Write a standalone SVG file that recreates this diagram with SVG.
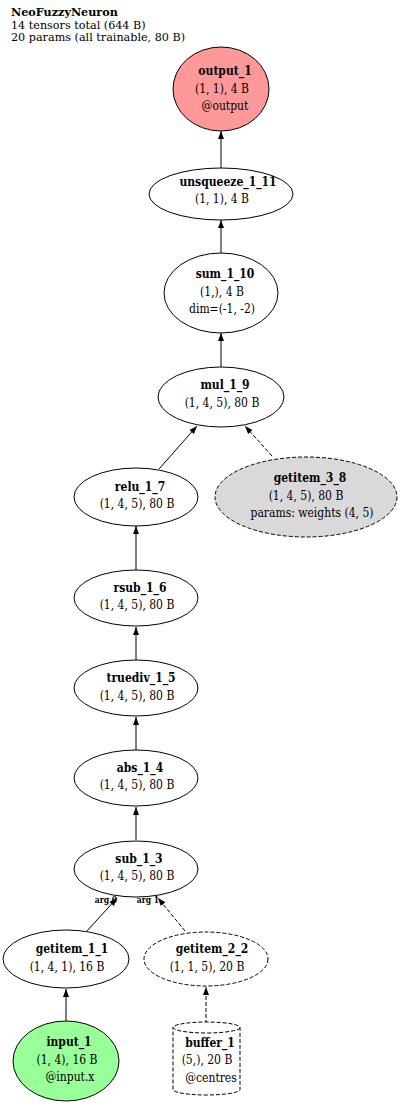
<svg xmlns="http://www.w3.org/2000/svg" width="400" height="1106" viewBox="0 0 400 1106">
<style>
text{font-family:"DejaVu Serif Condensed","DejaVu Serif","Liberation Serif",serif;font-stretch:condensed;font-size:12px;fill:#000}
.b{font-weight:bold}
.m{text-anchor:middle}
.t{font-family:"DejaVu Serif","Liberation Serif",serif;font-stretch:normal;font-size:11.2px}
.lbl{font-size:8.5px;font-weight:bold;text-anchor:middle}
.n{fill:#fff;stroke:#000;stroke-width:1}
.d{stroke-dasharray:4,2}
.e{fill:none;stroke:#000;stroke-width:1;marker-end:url(#ah)}
</style>
<defs>
<marker id="ah" markerWidth="8" markerHeight="6" refX="8" refY="3" orient="auto" markerUnits="userSpaceOnUse">
<path d="M0,0 L8,3 L0,6 z" fill="#000"/>
</marker>
</defs>
<rect width="400" height="1106" fill="#fff"/>
<g id="title">
<text class="b t" x="11" y="16">NeoFuzzyNeuron</text>
<text class="t" x="11" y="28.5">14 tensors total (644 B)</text>
<text class="t" x="11" y="41">20 params (all trainable, 80 B)</text>
</g>
<g id="edges">
<path class="e" d="M221,168 L221,131"/>
<path class="e" d="M221,253 L221,220"/>
<path class="e" d="M221,367 L221,333"/>
<path class="e" d="M159,469 L197,426"/>
<path class="e d" d="M272,456 L245,426"/>
<path class="e" d="M136,570 L136,526"/>
<path class="e" d="M136,660 L136,627"/>
<path class="e" d="M136,750 L136,717"/>
<path class="e" d="M136,840 L136,807"/>
<path class="e" d="M87,931 L117,898"/>
<path class="e d" d="M185,931 L158,898"/>
<path class="e" d="M66,1021 L66,989"/>
<path class="e d" d="M206,1030 L206,987"/>
<text class="lbl" x="106" y="903">arg 0</text>
<text class="lbl" x="148" y="903">arg 1</text>
</g>
<g id="output_1">
<ellipse class="n" cx="221" cy="89" rx="48" ry="42" style="fill:#ff9999"/>
<text class="b m" x="225" y="75">output_1</text>
<text class="m" x="222" y="93">(1, 1), 4 B</text>
<text class="m" x="225" y="110">@output</text>
</g>
<g id="unsqueeze_1_11">
<ellipse class="n" cx="221" cy="194" rx="72" ry="26"/>
<text class="b m" x="228" y="186">unsqueeze_1_11</text>
<text class="m" x="222" y="203">(1, 1), 4 B</text>
</g>
<g id="sum_1_10">
<ellipse class="n" cx="221" cy="293" rx="57" ry="40"/>
<text class="b m" x="225" y="278">sum_1_10</text>
<text class="m" x="222" y="296">(1,), 4 B</text>
<text class="m" x="222" y="313">dim=(-1, -2)</text>
</g>
<g id="mul_1_9">
<ellipse class="n" cx="221" cy="397" rx="63" ry="30"/>
<text class="b m" x="225" y="389">mul_1_9</text>
<text class="m" x="222" y="407">(1, 4, 5), 80 B</text>
</g>
<g id="relu_1_7">
<ellipse class="n" cx="136" cy="497" rx="62" ry="29"/>
<text class="b m" x="140" y="491">relu_1_7</text>
<text class="m" x="137" y="508">(1, 4, 5), 80 B</text>
</g>
<g id="getitem_3_8">
<ellipse class="n d" cx="306" cy="497" rx="91" ry="40" style="fill:#d9d9d9"/>
<text class="b m" x="310" y="482">getitem_3_8</text>
<text class="m" x="306" y="500">(1, 4, 5), 80 B</text>
<text class="m" x="312" y="517">params: weights (4, 5)</text>
</g>
<g id="rsub_1_6">
<ellipse class="n" cx="136" cy="598" rx="62" ry="28"/>
<text class="b m" x="140" y="592">rsub_1_6</text>
<text class="m" x="137" y="609">(1, 4, 5), 80 B</text>
</g>
<g id="truediv_1_5">
<ellipse class="n" cx="136" cy="688" rx="62" ry="28"/>
<text class="b m" x="141" y="682">truediv_1_5</text>
<text class="m" x="137" y="700">(1, 4, 5), 80 B</text>
</g>
<g id="abs_1_4">
<ellipse class="n" cx="136" cy="778" rx="62" ry="28"/>
<text class="b m" x="140" y="772">abs_1_4</text>
<text class="m" x="137" y="789">(1, 4, 5), 80 B</text>
</g>
<g id="sub_1_3">
<ellipse class="n" cx="136" cy="869" rx="62" ry="28"/>
<text class="b m" x="139" y="863">sub_1_3</text>
<text class="m" x="137" y="880">(1, 4, 5), 80 B</text>
</g>
<g id="getitem_1_1">
<ellipse class="n" cx="66" cy="959" rx="63" ry="29"/>
<text class="b m" x="72" y="953">getitem_1_1</text>
<text class="m" x="67" y="971">(1, 4, 1), 16 B</text>
</g>
<g id="getitem_2_2">
<ellipse class="n d" cx="206" cy="959" rx="62" ry="27"/>
<text class="b m" x="212" y="953">getitem_2_2</text>
<text class="m" x="207" y="971">(1, 1, 5), 20 B</text>
</g>
<g id="input_1">
<ellipse class="n" cx="66" cy="1061" rx="53" ry="40" style="fill:#99ff99"/>
<text class="b m" x="69" y="1046">input_1</text>
<text class="m" x="67" y="1064">(1, 4), 16 B</text>
<text class="m" x="70" y="1081">@input.x</text>
</g>
<g id="buffer_1">
<path class="n d" d="M240,1027.5 C240,1030.5 225,1033 206.5,1033 C188,1033 173,1030.5 173,1027.5 C173,1024.5 188,1022 206.5,1022 C225,1022 240,1024.5 240,1027.5 L240,1089.5 C240,1092.5 225,1095 206.5,1095 C188,1095 173,1092.5 173,1089.5 L173,1027.5"/>
<text class="b m" x="210" y="1047">buffer_1</text>
<text class="m" x="207" y="1064">(5,), 20 B</text>
<text class="m" x="211" y="1082">@centres</text>
</g>
</svg>
